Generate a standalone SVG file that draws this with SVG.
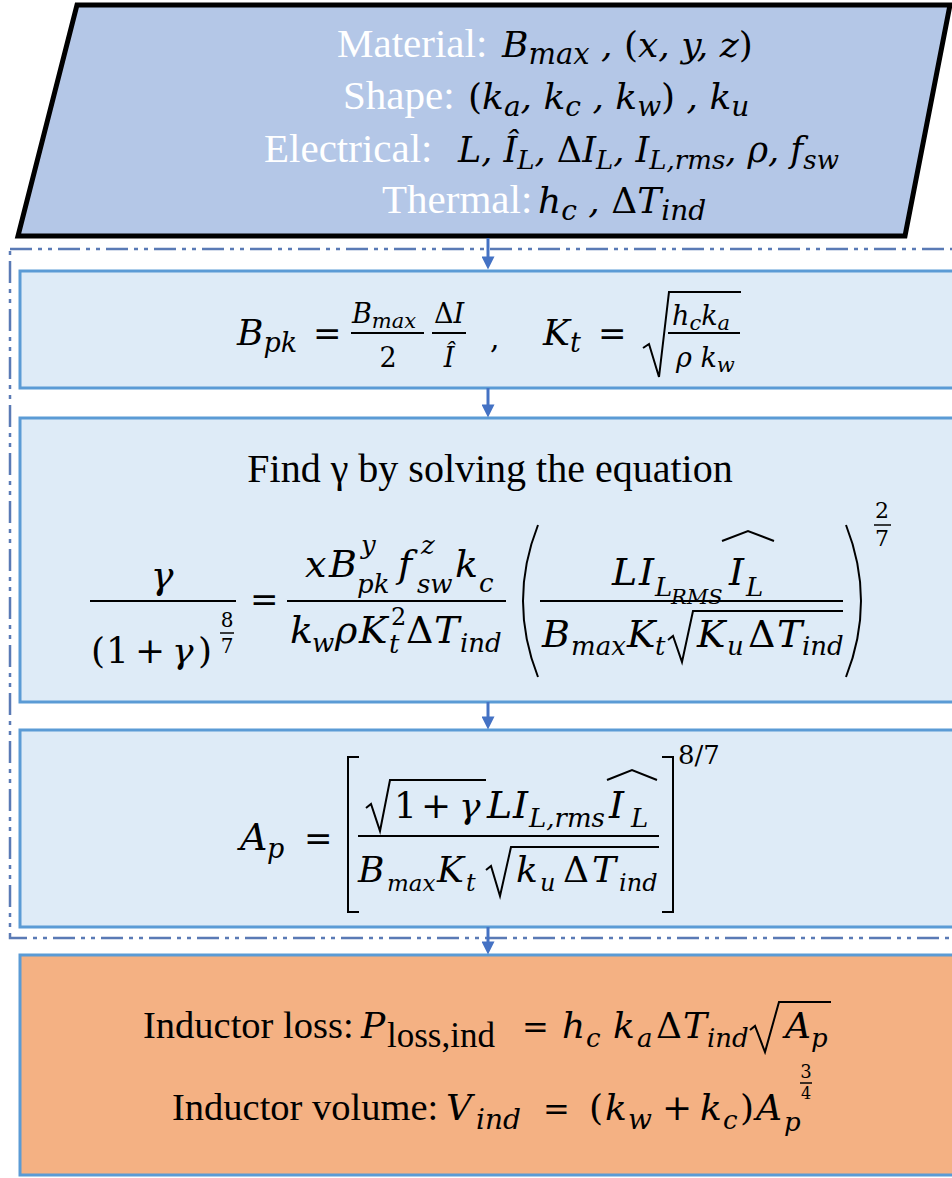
<svg xmlns="http://www.w3.org/2000/svg" width="952" height="1178" viewBox="0 0 952 1178">
<defs>
<style>
.lbl{font-family:"Liberation Serif","Times New Roman",serif;font-size:41px;fill:#ffffff}
.t{font-family:"Liberation Serif","Times New Roman",serif;fill:#000}
.m{font-family:"DejaVu Serif","Liberation Serif",serif;font-style:italic;fill:#000}
.u{font-style:normal}
.box{fill:#deebf7;stroke:#5b9bd5;stroke-width:3}
.bar{stroke:#000;stroke-width:2}
.rad{fill:none;stroke:#000;stroke-width:2;stroke-linejoin:miter}
.conn{stroke:#4472c4;stroke-width:3;marker-end:url(#ah)}
</style>
<marker id="ah" viewBox="0 0 10 10" refX="2" refY="5" markerWidth="14" markerHeight="13" markerUnits="userSpaceOnUse" orient="auto"><path d="M0,0 L10,5 L0,10 z" fill="#4472c4"/></marker>
</defs>
<rect width="952" height="1178" fill="#ffffff"/>

<g id="group-loop">
<rect x="10" y="249" width="960" height="689" fill="none" stroke="#5a7ab5" stroke-width="2.5" stroke-dasharray="22 6 4 6 4 6"/>
</g>

<g id="node-input">
<polygon points="77,5 950,5 905,236 18,236" fill="#b4c7e7" stroke="#000" stroke-width="5"/>
<text class="lbl" x="337" y="57">Material:</text>
<text class="m" x="502" y="57" font-size="36">B<tspan dy="7" font-size="29">max</tspan><tspan dy="-7"> , </tspan><tspan class="u">(</tspan>x, y, z<tspan class="u">)</tspan></text>
<text class="lbl" x="343" y="109">Shape:</text>
<text class="m" x="468" y="109" font-size="36"><tspan class="u">(</tspan>k<tspan dy="7" font-size="28">a</tspan><tspan dy="-7">, k</tspan><tspan dy="7" font-size="28">c</tspan><tspan dy="-7"> , k</tspan><tspan dy="7" font-size="28">w</tspan><tspan dy="-7" class="u">)</tspan> , k<tspan dy="7" font-size="28">u</tspan></text>
<text class="lbl" x="264" y="162">Electrical:</text>
<text class="m" x="458" y="162" font-size="35">L, Î<tspan dy="7" font-size="26">L</tspan><tspan dy="-7">, </tspan><tspan class="u">Δ</tspan>I<tspan dy="7" font-size="26">L</tspan><tspan dy="-7">, I</tspan><tspan dy="7" font-size="26">L,rms</tspan><tspan dy="-7">, ρ, f</tspan><tspan dy="7" font-size="26">sw</tspan></text>
<text class="lbl" x="382" y="213">Thermal:</text>
<text class="m" x="538" y="213" font-size="36">h<tspan dy="7" font-size="28">c</tspan><tspan dy="-7"> , </tspan><tspan class="u">Δ</tspan>T<tspan dy="7" font-size="28">ind</tspan></text>
</g>

<g id="node-bpk-kt">
<rect class="box" x="20" y="271" width="950" height="117"/>
<text class="m" x="237" y="345" font-size="36">B<tspan dy="7" font-size="27">pk</tspan></text>
<text class="m u" x="313" y="345" font-size="34">=</text>
<text class="m" x="352" y="323" font-size="27">B<tspan dy="5" font-size="21">max</tspan></text>
<line class="bar" x1="351" y1="333" x2="424" y2="333"/>
<text class="m u" x="388" y="367" font-size="27" text-anchor="middle">2</text>
<text class="m" x="434" y="323" font-size="27"><tspan class="u">Δ</tspan>I</text>
<line class="bar" x1="432" y1="333" x2="466" y2="333"/>
<text class="m" x="449" y="367" font-size="27" text-anchor="middle">Î</text>
<text class="m u" x="490" y="348" font-size="30">,</text>
<text class="m" x="543" y="345" font-size="36">K<tspan dy="7" font-size="27">t</tspan></text>
<text class="m u" x="598" y="345" font-size="34">=</text>
<path class="rad" d="M643,348 L649,344 L659,377 L669,292 L741,292"/>
<text class="m" x="672" y="325" font-size="27">h<tspan dy="5" font-size="21">c</tspan><tspan dy="-5">k</tspan><tspan dy="5" font-size="21">a</tspan></text>
<line class="bar" x1="668" y1="333" x2="740" y2="333"/>
<text class="m" x="676" y="367" font-size="27">ρ k<tspan dy="5" font-size="21">w</tspan></text>
</g>

<g id="node-gamma">
<rect class="box" x="20" y="418" width="950" height="284"/>
<text class="t" x="490" y="482" font-size="40" text-anchor="middle">Find γ by solving the equation</text>
<text class="m" x="162" y="588" font-size="38" text-anchor="middle">γ</text>
<line class="bar" x1="90" y1="601" x2="236" y2="601"/>
<text class="m u" x="91" y="663" font-size="36">(</text>
<text class="m u" x="106" y="663" font-size="36">1</text>
<text class="m u" x="135" y="663" font-size="36">+</text>
<text class="m" x="172" y="663" font-size="36">γ</text>
<text class="m u" x="198" y="663" font-size="36">)</text>
<text class="m u" x="227" y="627" font-size="20" text-anchor="middle">8</text>
<line x1="220" y1="633" x2="234" y2="633" stroke="#000" stroke-width="1.5"/>
<text class="m u" x="227" y="653" font-size="20" text-anchor="middle">7</text>
<text class="m u" x="250" y="611" font-size="34">=</text>
<text class="m" x="305" y="577" font-size="38">x</text>
<text class="m" x="329" y="577" font-size="38">B</text>
<text class="m" x="361" y="554" font-size="26">y</text>
<text class="m" x="357" y="593" font-size="26">pk</text>
<text class="m" x="398" y="577" font-size="38">f</text>
<text class="m" x="421" y="554" font-size="26">z</text>
<text class="m" x="417" y="593" font-size="26">sw</text>
<text class="m" x="455" y="577" font-size="38">k</text>
<text class="m" x="479" y="592" font-size="26">c</text>
<line class="bar" x1="287" y1="601" x2="506" y2="601"/>
<text class="m" x="290" y="643" font-size="38">k</text>
<text class="m" x="312" y="652" font-size="26">w</text>
<text class="m" x="335" y="643" font-size="38">ρ</text>
<text class="m" x="359" y="643" font-size="38">K</text>
<text class="m u" x="391" y="625" font-size="24">2</text>
<text class="m" x="389" y="653" font-size="26">t</text>
<text class="m u" x="406" y="643" font-size="38">Δ</text>
<text class="m" x="434" y="643" font-size="38">T</text>
<text class="m" x="460" y="652" font-size="26">ind</text>
<path class="rad" d="M538,525 Q508,601 538,677"/>
<text class="m" x="612" y="585" font-size="38">L</text>
<text class="m" x="639" y="585" font-size="38">I</text>
<text class="m" x="655" y="596" font-size="26">L</text>
<text class="m" x="671" y="604" font-size="21">RMS</text>
<text class="m" x="729" y="585" font-size="38">I</text>
<text class="m" x="746" y="596" font-size="26">L</text>
<path class="rad" d="M722,541 L748,531 L774,541"/>
<line class="bar" x1="540" y1="601" x2="843" y2="601"/>
<text class="m" x="542" y="647" font-size="38">B</text>
<text class="m" x="571" y="655" font-size="26">max</text>
<text class="m" x="627" y="647" font-size="38">K</text>
<text class="m" x="655" y="655" font-size="26">t</text>
<path class="rad" d="M668,640 L673,636 L682,662 L693,611 L843,611"/>
<text class="m" x="697" y="647" font-size="38">K</text>
<text class="m" x="727" y="655" font-size="26">u</text>
<text class="m u" x="748" y="647" font-size="38">Δ</text>
<text class="m" x="777" y="647" font-size="38">T</text>
<text class="m" x="802" y="655" font-size="26">ind</text>
<path class="rad" d="M846,525 Q876,601 846,677"/>
<text class="m u" x="882" y="518" font-size="22" text-anchor="middle">2</text>
<line x1="874" y1="525" x2="891" y2="525" stroke="#000" stroke-width="1.5"/>
<text class="m u" x="882" y="546" font-size="22" text-anchor="middle">7</text>
</g>

<g id="node-area">
<rect class="box" x="20" y="730" width="950" height="197"/>
<text class="m" x="240" y="850" font-size="38">A</text>
<text class="m" x="267" y="858" font-size="27">p</text>
<text class="m u" x="304" y="850" font-size="34">=</text>
<path class="rad" d="M359,757 L348,757 L348,912 L359,912"/>
<path class="rad" d="M366,808 L371,804 L380,831 L390,780 L486,780"/>
<text class="m u" x="394" y="818" font-size="36">1</text>
<text class="m u" x="421" y="818" font-size="36">+</text>
<text class="m" x="459" y="818" font-size="36">γ</text>
<text class="m" x="487" y="818" font-size="38">L</text>
<text class="m" x="513" y="818" font-size="38">I</text>
<text class="m" x="529" y="827" font-size="26">L,rms</text>
<text class="m" x="609" y="818" font-size="38">I</text>
<text class="m" x="631" y="827" font-size="26">L</text>
<path class="rad" d="M607,780 L632,770 L657,780"/>
<line class="bar" x1="358" y1="836" x2="659" y2="836"/>
<text class="m" x="358" y="882" font-size="36">B</text>
<text class="m" x="387" y="891" font-size="23">max</text>
<text class="m" x="437" y="882" font-size="36">K</text>
<text class="m" x="466" y="891" font-size="24">t</text>
<path class="rad" d="M486,870 L491,866 L500,896 L511,847 L659,847"/>
<text class="m" x="516" y="882" font-size="36">k</text>
<text class="m" x="540" y="891" font-size="24">u</text>
<text class="m u" x="563" y="882" font-size="36">Δ</text>
<text class="m" x="592" y="882" font-size="36">T</text>
<text class="m" x="619" y="891" font-size="24">ind</text>
<path class="rad" d="M662,757 L673,757 L673,912 L662,912"/>
<text class="m u" x="678" y="764" font-size="26">8/7</text>
</g>

<g id="node-output">
<rect x="20" y="955" width="950" height="220" fill="#f4b183" stroke="#5b9bd5" stroke-width="3"/>
<text class="t" x="143" y="1038" font-size="38.5">Inductor loss:</text>
<text class="m" x="361" y="1038" font-size="36">P</text>
<text class="t" x="387" y="1047" font-size="35">loss,ind</text>
<text class="m u" x="522" y="1038" font-size="32">=</text>
<text class="m" x="562" y="1038" font-size="36">h</text>
<text class="m" x="586" y="1047" font-size="26">c</text>
<text class="m" x="613" y="1038" font-size="36">k</text>
<text class="m" x="637" y="1047" font-size="26">a</text>
<text class="m u" x="656" y="1038" font-size="36">Δ</text>
<text class="m" x="683" y="1038" font-size="36">T</text>
<text class="m" x="707" y="1047" font-size="26">ind</text>
<path class="rad" d="M750,1030 L755,1026 L765,1052 L779,1002 L831,1002"/>
<text class="m" x="785" y="1038" font-size="36">A</text>
<text class="m" x="811" y="1047" font-size="26">p</text>
<text class="t" x="172" y="1120" font-size="38.5">Inductor volume:</text>
<text class="m" x="446" y="1120" font-size="36">V</text>
<text class="m" x="476" y="1129" font-size="28">ind</text>
<text class="m u" x="543" y="1120" font-size="32">=</text>
<text class="m u" x="589" y="1120" font-size="36">(</text>
<text class="m" x="605" y="1120" font-size="36">k</text>
<text class="m" x="628" y="1129" font-size="28">w</text>
<text class="m u" x="662" y="1120" font-size="36">+</text>
<text class="m" x="700" y="1120" font-size="36">k</text>
<text class="m" x="723" y="1129" font-size="26">c</text>
<text class="m u" x="740" y="1120" font-size="36">)</text>
<text class="m" x="756" y="1120" font-size="36">A</text>
<text class="m" x="784" y="1131" font-size="26">p</text>
<text class="m u" x="806" y="1078" font-size="18" text-anchor="middle">3</text>
<line x1="800" y1="1083" x2="812" y2="1083" stroke="#000" stroke-width="1.5"/>
<text class="m u" x="806" y="1099" font-size="16" text-anchor="middle">4</text>
</g>

<g id="connectors">
<line class="conn" x1="488" y1="238" x2="488" y2="259"/>
<line class="conn" x1="488" y1="388" x2="488" y2="407"/>
<line class="conn" x1="488" y1="702" x2="488" y2="719"/>
<line class="conn" x1="488" y1="927" x2="488" y2="944"/>
</g>
</svg>
